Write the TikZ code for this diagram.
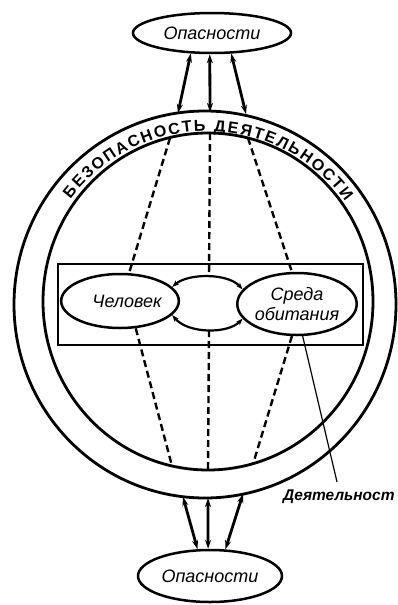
\documentclass[tikz,border=0pt]{standalone}
\usepackage{fontspec}
\setmainfont{Liberation Sans}
\usetikzlibrary{shapes.geometric,arrows.meta,decorations.text}
\begin{document}
\begin{tikzpicture}[x=1pt,y=-1pt,
  ring/.style={line width=2.8pt},
  oval/.style={ellipse,draw,line width=2.5pt,inner sep=0pt,align=center,
    font=\fontsize{18}{20}\selectfont\itshape},
  dbl/.style={line width=2.8pt,{Stealth[length=9pt,width=6pt]}-{Stealth[length=9pt,width=6pt]}},
  arcarrow/.style={line width=2.2pt,{Stealth[length=7pt,width=5pt]}-{Stealth[length=7pt,width=5pt]}},
  dsh/.style={line width=2.4pt,dash pattern=on 7pt off 4pt},
  lead/.style={line width=1.2pt},
  frame/.style={draw,line width=2.8pt}]
\useasboundingbox (0,0) rectangle (398,605);

% ring
\draw[ring] (205,304.5) ellipse[x radius=191, y radius=193.5];
\draw[ring] (208,301.5) ellipse[x radius=165, y radius=168.5];
\path[decorate,decoration={text along path,
   text={|\fontsize{16}{16}\selectfont\bfseries|БЕЗОПАСНОСТЬ ДЕЯТЕЛЬНОСТИ},
   text align={fit to path}}]
   (207,302) ++(-143:171) arc[start angle=-143,end angle=-36,radius=171];

% frame
\draw[frame] (58,264) rectangle (363,345);

% nodes
\node[oval,minimum width=158pt,minimum height=40pt] (top) at (212,33) {Опасности};
\node[oval,minimum width=144pt,minimum height=52pt] (bot) at (210,576) {Опасности};
\node[oval,minimum width=114pt,minimum height=54pt] (chel) at (120,301) {\hspace*{14pt}Человек};
\node[oval,minimum width=116pt,minimum height=62pt] (sreda) at (297,304) {Среда\\обитания};
\node[font=\fontsize{15.5}{18}\selectfont\bfseries\itshape,anchor=west,inner sep=0pt] (act) at (283,497) {Деятельност};

% ring coordinates
\coordinate (o1) at (178,113);
\coordinate (o2) at (210,112);
\coordinate (o3) at (246,114);
\coordinate (u1) at (183,497);
\coordinate (u2) at (208,498);
\coordinate (u3) at (243,494);
\coordinate (i1) at (170,138);
\coordinate (i2) at (210,133);
\coordinate (i3) at (248,138);
\coordinate (j1) at (172,466);
\coordinate (j2) at (208,470);
\coordinate (j3) at (253,464);
\coordinate (mt) at (209,277);
\coordinate (mb) at (209,330);
\coordinate (ldend) at (337,482);

% solid double arrows
\draw[dbl] (top.-136) -- (o1);
\draw[dbl] (top.-96) -- (o2);
\draw[dbl] (top.-47) -- (o3);
\draw[dbl] (u1) -- (bot.115);
\draw[dbl] (u2) -- (bot.94);
\draw[dbl] (u3) -- (bot.60);

% dashed lines
\draw[dsh] (i1) -- (chel.72);
\draw[dsh] (chel.-60) -- (j1);
\draw[dsh] (i2) -- (mt);
\draw[dsh] (mb) -- (j2);
\draw[dsh] (i3) -- (sreda.99);
\draw[dsh] (sreda.-99) -- (j3);

% middle arcs
\draw[arcarrow] (chel.15) .. controls (188,273) and (228,273) .. (sreda.165);
\draw[arcarrow] (chel.-15) .. controls (188,334) and (228,334) .. (sreda.-165);

% leader
\draw[lead] (sreda.-80) -- (ldend);
\end{tikzpicture}
\end{document}
